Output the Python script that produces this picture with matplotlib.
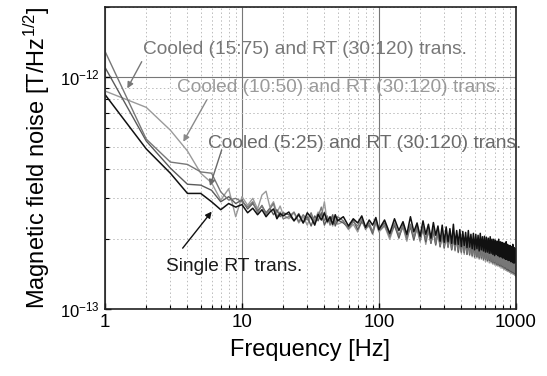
import matplotlib
matplotlib.use("Agg")
import matplotlib.pyplot as plt

plt.rcParams['font.family'] = ['Liberation Sans', 'DejaVu Sans']
plt.rcParams['mathtext.fontset'] = 'custom'
plt.rcParams['mathtext.rm'] = 'Liberation Sans'
plt.rcParams['mathtext.it'] = 'Liberation Sans:italic'

# frequency grid [Hz]
freq = (list(range(1, 21)) + list(range(22, 51, 2)) + list(range(55, 101, 5))
        + list(range(110, 1001, 10)))

# noise values in units of 1e-13 T/Hz^1/2
single_rt = [8.4, 4.9, 3.85, 3.15, 3.15, 2.9, 2.68, 2.85, 2.75, 2.82, 2.6, 2.72, 2.55, 2.68, 2.5, 2.62, 2.7, 2.45, 2.58, 2.52,
             2.62, 2.4, 2.55, 2.35, 2.6, 2.48, 2.3, 2.56, 2.42, 2.6, 2.38, 2.5, 2.32, 2.55, 2.4,
             2.5, 2.28, 2.45, 2.35, 2.52, 2.25, 2.42, 2.3, 2.48, 2.2,
             2.42, 2.12, 2.45, 2.18, 2.38, 2.1, 2.5, 2.15, 2.35, 2.06,
             2.4, 2.1, 2.32, 2.02, 2.36, 2.08, 2.28, 1.96, 2.3, 1.94,
             2.26, 1.95, 2.22, 1.92, 2.32, 1.9, 2.18, 1.9, 2.2, 1.86,
             2.16, 1.88, 2.14, 1.84, 2.18, 1.85, 2.1, 1.82, 2.12, 1.8,
             2.1, 1.82, 2.08, 1.78, 2.12, 1.8, 2.05, 1.78, 2.06, 1.76,
             2.04, 1.76, 2.02, 1.74, 2.05, 1.74, 2.0, 1.72, 2.0, 1.7,
             1.98, 1.72, 1.96, 1.7, 2.0, 1.68, 1.95, 1.68, 1.94, 1.66,
             1.92, 1.66, 1.92, 1.64, 1.95, 1.64, 1.9, 1.62, 1.88, 1.62,
             1.88, 1.6, 1.86, 1.6, 1.9, 1.58, 1.84, 1.58, 1.82, 1.6]
cooled_15_75 = [12.9, 5.4, 4.3, 4.2, 3.9, 3.85, 3.2, 2.95, 3.0, 2.9, 2.75, 2.9, 2.6, 2.8, 2.55, 2.7, 2.85, 2.5, 2.62, 2.45,
                2.5, 2.62, 2.38, 2.55, 2.42, 2.6, 2.35, 2.5, 2.75, 2.4, 2.52, 2.3, 2.48, 2.36, 2.5,
                2.4, 2.22, 2.38, 2.28, 2.45, 2.2, 2.35, 2.15, 2.42, 2.18,
                2.3, 2.05, 2.35, 2.08, 2.28, 2.0, 2.32, 2.04, 2.25, 1.98,
                2.28, 2.0, 2.2, 1.94, 2.22, 1.92, 2.18, 1.88, 2.15, 1.86,
                2.14, 1.85, 2.1, 1.82, 2.12, 1.8, 2.06, 1.8, 2.08, 1.78,
                2.04, 1.76, 2.02, 1.75, 2.05, 1.74, 2.0, 1.72, 1.98, 1.7,
                1.98, 1.7, 1.96, 1.68, 1.98, 1.68, 1.94, 1.66, 1.92, 1.65,
                1.92, 1.64, 1.9, 1.64, 1.92, 1.62, 1.88, 1.6, 1.87, 1.6,
                1.86, 1.58, 1.85, 1.57, 1.86, 1.56, 1.82, 1.55, 1.8, 1.54,
                1.8, 1.52, 1.78, 1.52, 1.8, 1.5, 1.76, 1.5, 1.74, 1.48,
                1.74, 1.47, 1.72, 1.46, 1.74, 1.45, 1.7, 1.44, 1.66, 1.42]
cooled_5_25 = [11.0, 5.3, 4.05, 3.45, 3.42, 3.25, 2.9, 3.05, 2.85, 2.95, 2.7, 2.85, 2.65, 2.78, 2.6, 2.72, 2.55, 2.68, 2.5, 2.6,
               2.55, 2.4, 2.58, 2.35, 2.5, 2.28, 2.52, 2.4, 2.6, 2.3, 2.45, 2.38, 2.55, 2.28, 2.42,
               2.35, 2.25, 2.42, 2.2, 2.38, 2.26, 2.3, 2.12, 2.4, 2.22,
               2.35, 2.08, 2.3, 2.02, 2.32, 2.05, 2.26, 1.98, 2.3, 2.0,
               2.22, 1.95, 2.25, 1.92, 2.18, 1.9, 2.2, 1.86, 2.12, 1.84,
               2.1, 1.86, 2.12, 1.8, 2.06, 1.8, 2.08, 1.76, 2.04, 1.76,
               2.02, 1.75, 2.04, 1.72, 1.98, 1.72, 2.0, 1.7, 1.96, 1.68,
               1.95, 1.68, 1.97, 1.66, 1.92, 1.66, 1.94, 1.64, 1.9, 1.64,
               1.9, 1.62, 1.91, 1.62, 1.88, 1.6, 1.88, 1.58, 1.85, 1.58,
               1.84, 1.56, 1.86, 1.55, 1.82, 1.54, 1.83, 1.53, 1.8, 1.52,
               1.78, 1.5, 1.8, 1.5, 1.76, 1.48, 1.76, 1.47, 1.72, 1.46,
               1.72, 1.45, 1.73, 1.44, 1.7, 1.43, 1.68, 1.42, 1.64, 1.4]
cooled_10_50 = [8.7, 7.4, 5.9, 4.8, 3.85, 3.5, 2.95, 3.3, 2.5, 3.05, 2.8, 3.0, 2.7, 3.1, 3.22, 2.75, 2.9, 2.6, 2.78, 2.55,
                2.45, 2.6, 2.35, 2.5, 2.3, 2.55, 2.4, 2.62, 2.5, 2.9, 2.35, 2.45, 2.28, 2.5, 2.32,
                2.38, 2.2, 2.32, 2.15, 2.4, 2.22, 2.28, 2.1, 2.35, 2.15,
                2.28, 2.0, 2.3, 2.06, 2.25, 1.96, 2.3, 2.02, 2.2, 1.95,
                2.25, 1.9, 2.18, 1.92, 2.15, 1.88, 2.12, 1.85, 2.1, 1.82,
                2.08, 1.84, 2.1, 1.8, 2.05, 1.78, 2.06, 1.75, 2.0, 1.74,
                2.02, 1.72, 1.98, 1.72, 1.96, 1.7, 1.97, 1.68, 1.94, 1.66,
                1.94, 1.66, 1.93, 1.64, 1.9, 1.64, 1.92, 1.62, 1.88, 1.6,
                1.88, 1.6, 1.86, 1.58, 1.86, 1.58, 1.84, 1.56, 1.82, 1.55,
                1.82, 1.54, 1.8, 1.53, 1.8, 1.52, 1.78, 1.5, 1.76, 1.5,
                1.76, 1.48, 1.74, 1.47, 1.74, 1.46, 1.72, 1.45, 1.7, 1.44,
                1.7, 1.43, 1.68, 1.42, 1.68, 1.41, 1.66, 1.4, 1.62, 1.38]

fig = plt.figure(figsize=(5.47, 3.76), dpi=100)
ax = fig.add_axes([0.192, 0.178, 0.751, 0.803])

def scaled(v):
    return [x * 1e-13 for x in v]

ax.plot(freq, scaled(cooled_10_50), color="#9a9a9a", lw=1.0)
ax.plot(freq, scaled(cooled_5_25), color="#5a5a5a", lw=1.0)
ax.plot(freq, scaled(cooled_15_75), color="#777777", lw=1.0)
ax.plot(freq, scaled(single_rt), color="#111111", lw=1.1)

ax.set_xscale("log")
ax.set_yscale("log")
ax.set_xlim(1, 1000)
ax.set_ylim(1e-13, 2e-12)
ax.set_xticks([1, 10, 100, 1000])
ax.set_xticklabels(["1", "10", "100", "1000"], fontsize=13.5)
ax.set_yticks([1e-13, 1e-12])
ax.set_yticklabels([r"$10^{-13}$", r"$10^{-12}$"], fontsize=12)
ax.tick_params(which="both", direction="in", top=False, right=False)
ax.tick_params(which="major", length=4, width=1)
ax.tick_params(which="minor", length=3, width=0.8, labelleft=False, labelbottom=False)
ax.grid(which="major", color="#777777", lw=0.8, ls="-")
ax.grid(which="minor", color="#bbbbbb", lw=0.7, ls=(0, (1.5, 2.5)))
for s in ax.spines.values():
    s.set_linewidth(1.2)
    s.set_color("#222222")

ax.set_xlabel("Frequency [Hz]", fontsize=17, labelpad=6)
ax.set_ylabel(r"Magnetic field noise [T/Hz$^{1/2}$]", fontsize=17, labelpad=6)

# labels and arrows
ax.text(1.88, 1.31e-12, "Cooled (15:75) and RT (30:120) trans.", color="#777777", fontsize=13.8, va="center")
ax.text(3.37, 8.97e-13, "Cooled (10:50) and RT (30:120) trans.", color="#9a9a9a", fontsize=13.8, va="center")
ax.text(5.68, 5.19e-13, "Cooled (5:25) and RT (30:120) trans.", color="#6a6a6a", fontsize=13.8, va="center")
ax.text(2.79, 1.52e-13, "Single RT trans.", color="#1a1a1a", fontsize=13.8, va="center")

arr = dict(arrowstyle="-|>", mutation_scale=9, lw=1, shrinkA=0, shrinkB=0)
ax.annotate("", xy=(1.455, 8.93e-13), xytext=(1.853, 1.164e-12), arrowprops=dict(arr, color="#777777"))
ax.annotate("", xy=(3.73, 5.26e-13), xytext=(5.53, 7.96e-13), arrowprops=dict(arr, color="#8a8a8a"))
ax.annotate("", xy=(5.84, 3.39e-13), xytext=(7.11, 4.85e-13), arrowprops=dict(arr, color="#6a6a6a"))
ax.annotate("", xy=(6.01, 2.63e-13), xytext=(3.69, 1.83e-13), arrowprops=dict(arr, color="#111111"))

plt.savefig("out.png", dpi=100)
